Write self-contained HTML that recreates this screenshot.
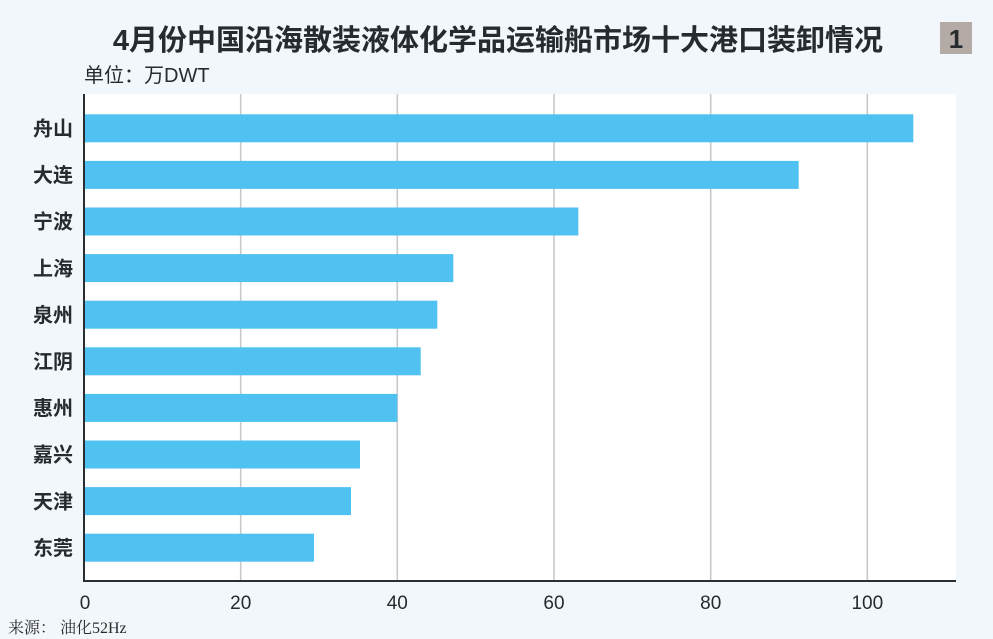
<!DOCTYPE html>
<html>
<head>
<meta charset="utf-8">
<style>
  html,body{margin:0;padding:0;background:#f1f7fb;}
  body{width:993px;height:639px;overflow:hidden;}
  svg{display:block;}
  .t{font-family:"Liberation Sans","Noto Sans CJK SC",sans-serif;fill:#262b2e;}
</style>
</head>
<body>
<svg width="993" height="639" viewBox="0 0 993 639" xmlns="http://www.w3.org/2000/svg">
  <rect x="0" y="0" width="993" height="639" fill="#f1f7fb"/>
  <!-- title -->
  <text class="t" x="498" y="50" text-anchor="middle" font-size="29" font-weight="bold">4月份中国沿海散装液体化学品运输船市场十大港口装卸情况</text>
  <rect x="940" y="22" width="32" height="32" fill="#b4aba6"/>
  <text class="t" x="956" y="48" text-anchor="middle" font-size="26" font-weight="bold">1</text>
  <text class="t" x="84" y="82" font-size="20">单位：万DWT</text>

  <!-- plot area -->
  <rect x="84" y="94" width="872" height="488" fill="#ffffff"/>
  <g stroke="#c9c9c9" stroke-width="1.6">
    <line x1="240.7" y1="94" x2="240.7" y2="581"/>
    <line x1="397.3" y1="94" x2="397.3" y2="581"/>
    <line x1="554" y1="94" x2="554" y2="581"/>
    <line x1="710.7" y1="94" x2="710.7" y2="581"/>
    <line x1="867.3" y1="94" x2="867.3" y2="581"/>
  </g>

  <!-- bars -->
  <g fill="#4fc2f1">
    <rect x="85" y="114.3" width="828.3" height="28"/>
    <rect x="85" y="160.9" width="713.7" height="28"/>
    <rect x="85" y="207.5" width="493.3" height="28"/>
    <rect x="85" y="254.1" width="368.3" height="28"/>
    <rect x="85" y="300.7" width="352.3" height="28"/>
    <rect x="85" y="347.3" width="335.7" height="28"/>
    <rect x="85" y="393.9" width="312.3" height="28"/>
    <rect x="85" y="440.5" width="275" height="28"/>
    <rect x="85" y="487.1" width="266" height="28"/>
    <rect x="85" y="533.7" width="229" height="28"/>
  </g>

  <!-- axes -->
  <line x1="84" y1="94" x2="84" y2="582" stroke="#2a2e30" stroke-width="2"/>
  <line x1="83" y1="581" x2="956" y2="581" stroke="#2a2e30" stroke-width="2"/>

  <!-- category labels -->
  <g class="t" font-size="20" font-weight="bold" text-anchor="end">
    <text x="73" y="135.5">舟山</text>
    <text x="73" y="182.1">大连</text>
    <text x="73" y="228.7">宁波</text>
    <text x="73" y="275.3">上海</text>
    <text x="73" y="321.9">泉州</text>
    <text x="73" y="368.5">江阴</text>
    <text x="73" y="415.1">惠州</text>
    <text x="73" y="461.7">嘉兴</text>
    <text x="73" y="508.3">天津</text>
    <text x="73" y="554.9">东莞</text>
  </g>

  <!-- tick labels -->
  <g class="t" font-size="19" text-anchor="middle">
    <text x="85" y="609">0</text>
    <text x="240.7" y="609">20</text>
    <text x="397.3" y="609">40</text>
    <text x="554" y="609">60</text>
    <text x="710.7" y="609">80</text>
    <text x="867.3" y="609">100</text>
  </g>

  <!-- source -->
  <text x="8" y="633" font-size="16" fill="#2a2a2a" font-family="'Liberation Serif','Noto Serif CJK SC',serif">来源： 油化52Hz</text>
</svg>
</body>
</html>
